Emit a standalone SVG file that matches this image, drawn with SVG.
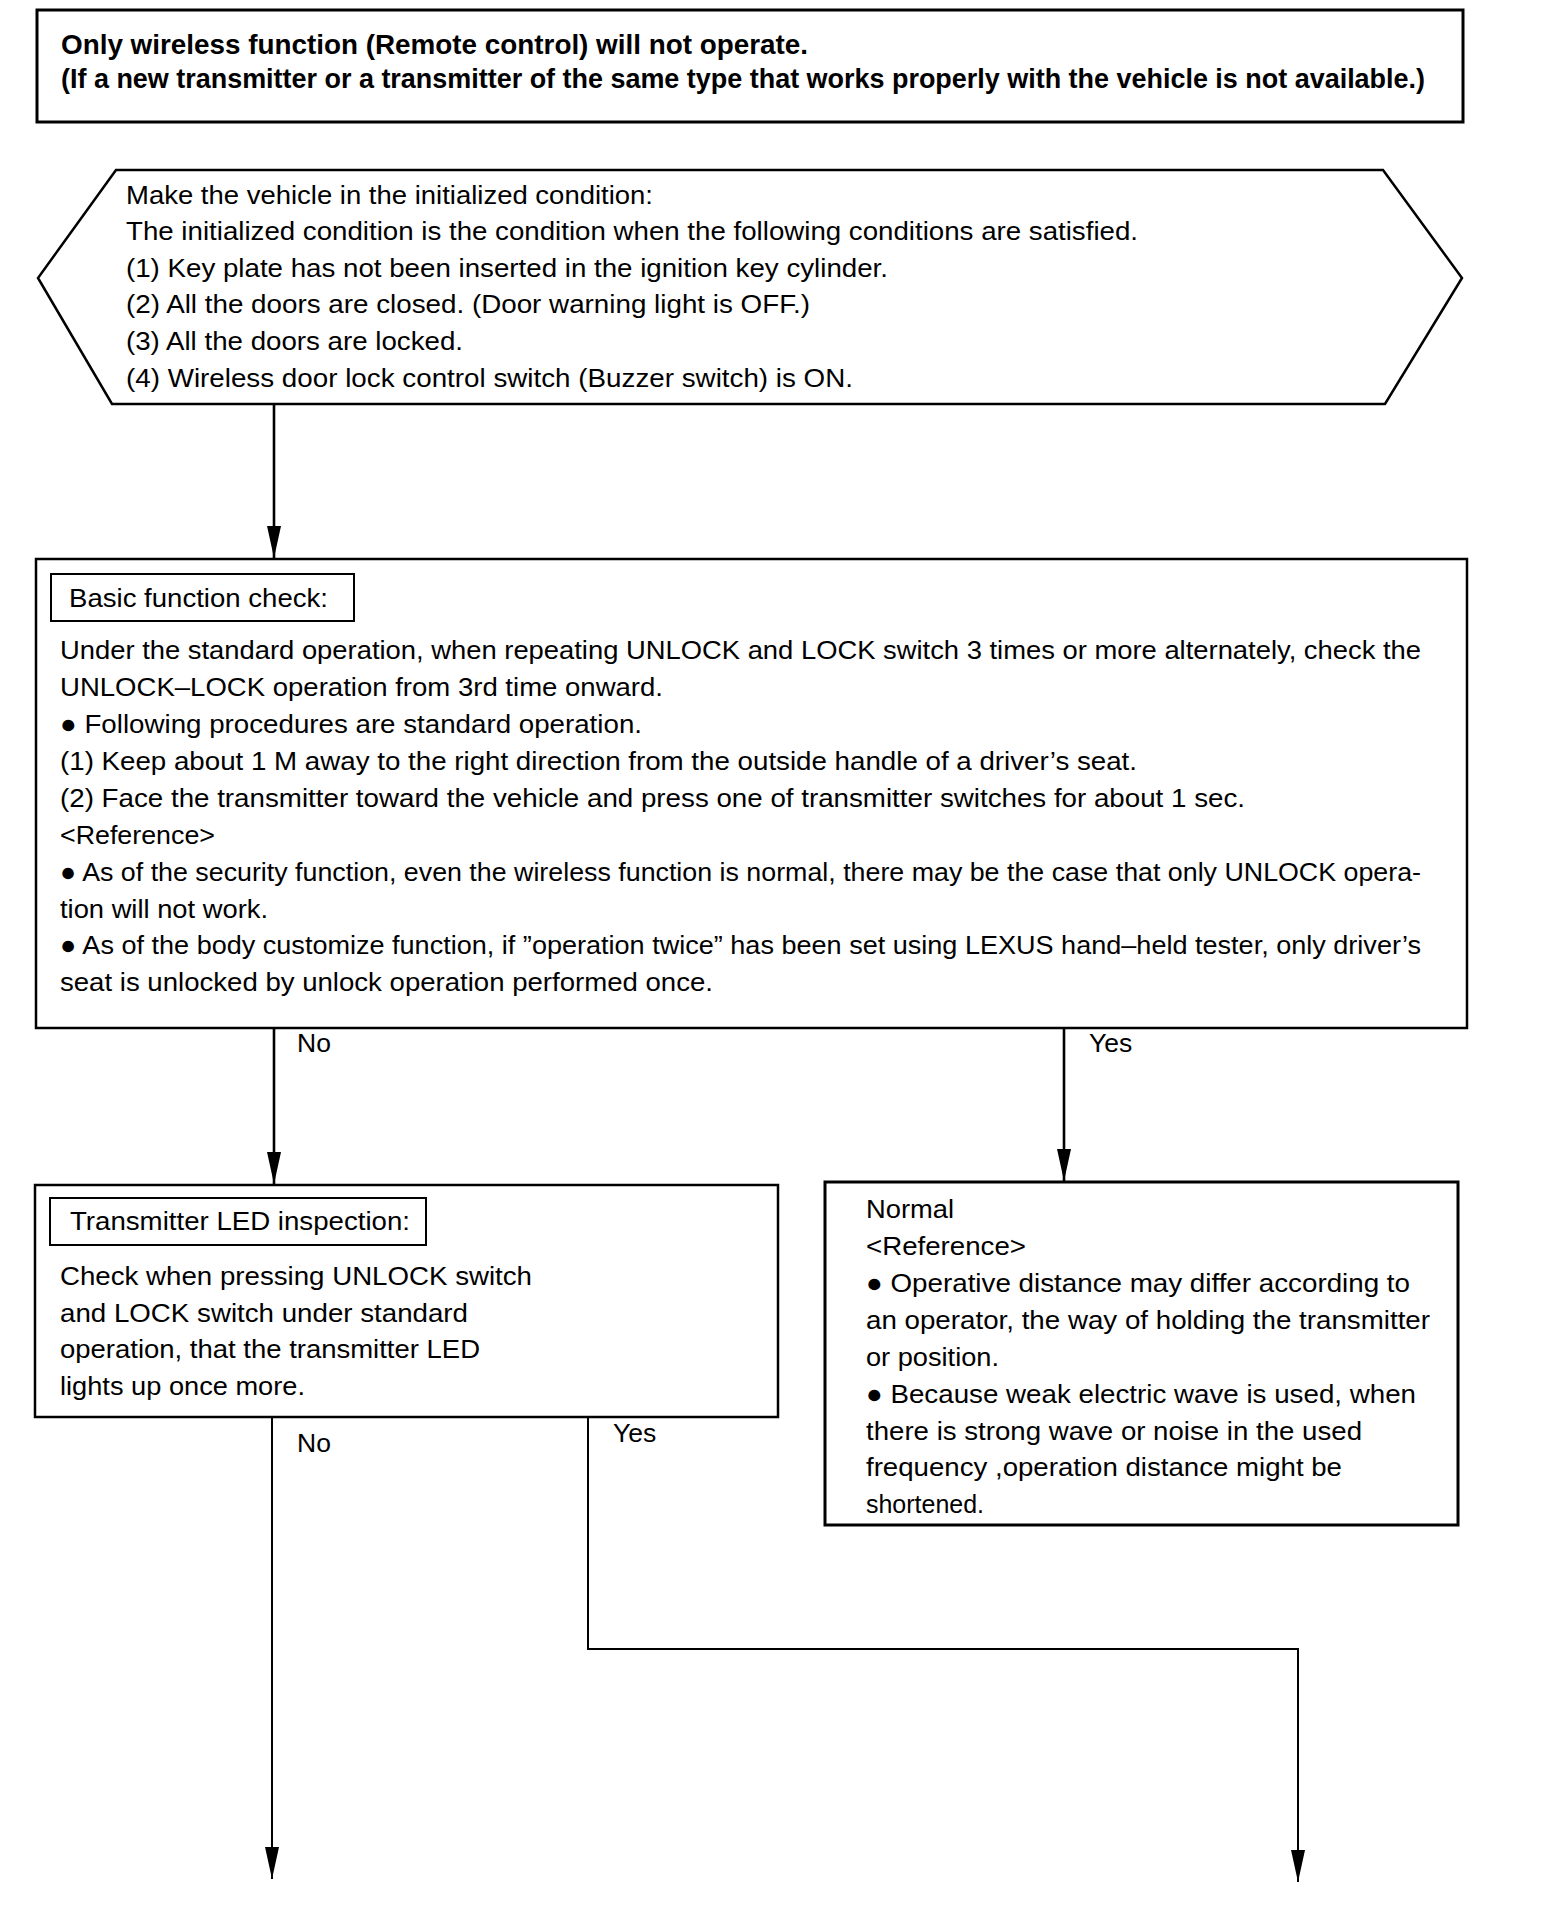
<svg xmlns="http://www.w3.org/2000/svg" width="1568" height="1918" viewBox="0 0 1568 1918">
<style>
.t{font-family:"Liberation Sans",Arial,Helvetica,sans-serif;font-size:26.5px;fill:#000}
.tb{font-family:"Liberation Sans",Arial,Helvetica,sans-serif;font-size:27px;font-weight:bold;fill:#000}
.box{fill:#fff;stroke:#000;stroke-width:2.5}
.thick{fill:#fff;stroke:#000;stroke-width:3}
.lbl{fill:none;stroke:#000;stroke-width:2}
.c{fill:none;stroke:#000;stroke-width:2.6}
.c2{fill:none;stroke:#000;stroke-width:2}
</style>
<defs>
<marker id="ah" markerUnits="userSpaceOnUse" viewBox="0 0 32 14" markerWidth="32" markerHeight="14" refX="32" refY="7" orient="auto">
<path d="M0,0 L32,7 L0,14 Z" fill="#000"/>
</marker>
</defs>
<rect width="1568" height="1918" fill="#fff"/>

<g id="title">
<rect class="thick" x="37" y="10" width="1426" height="112"/>
<text class="tb" x="61" y="54" textLength="747" lengthAdjust="spacingAndGlyphs">Only wireless function (Remote control) will not operate.</text>
<text class="tb" x="61" y="88" textLength="1364" lengthAdjust="spacingAndGlyphs">(If a new transmitter or a transmitter of the same type that works properly with the vehicle is not available.)</text>
</g>

<g id="init">
<polygon class="box" points="116,170 1383,170 1462,278 1385,404 112,404 38,278"/>
<text class="t" x="126" y="204" textLength="527" lengthAdjust="spacingAndGlyphs">Make the vehicle in the initialized condition:</text>
<text class="t" x="126" y="240" textLength="1012" lengthAdjust="spacingAndGlyphs">The initialized condition is the condition when the following conditions are satisfied.</text>
<text class="t" x="126" y="277" textLength="762" lengthAdjust="spacingAndGlyphs">(1) Key plate has not been inserted in the ignition key cylinder.</text>
<text class="t" x="126" y="313" textLength="684" lengthAdjust="spacingAndGlyphs">(2) All the doors are closed. (Door warning light is OFF.)</text>
<text class="t" x="126" y="350" textLength="337" lengthAdjust="spacingAndGlyphs">(3) All the doors are locked.</text>
<text class="t" x="126" y="387" textLength="727" lengthAdjust="spacingAndGlyphs">(4) Wireless door lock control switch (Buzzer switch) is ON.</text>
</g>

<g id="basic">
<rect class="box" x="36" y="559" width="1431" height="469"/>
<rect class="lbl" x="51" y="574" width="303" height="47"/>
<text class="t" x="69" y="607" textLength="259" lengthAdjust="spacingAndGlyphs">Basic function check:</text>
<text class="t" x="60" y="659" textLength="1361" lengthAdjust="spacingAndGlyphs">Under the standard operation, when repeating UNLOCK and LOCK switch 3 times or more alternately, check the</text>
<text class="t" x="60" y="696" textLength="603" lengthAdjust="spacingAndGlyphs">UNLOCK–LOCK operation from 3rd time onward.</text>
<text class="t" x="60" y="733" textLength="582" lengthAdjust="spacingAndGlyphs">● Following procedures are standard operation.</text>
<text class="t" x="60" y="770" textLength="1077" lengthAdjust="spacingAndGlyphs">(1) Keep about 1 M away to the right direction from the outside handle of a driver’s seat.</text>
<text class="t" x="60" y="807" textLength="1185" lengthAdjust="spacingAndGlyphs">(2) Face the transmitter toward the vehicle and press one of transmitter switches for about 1 sec.</text>
<text class="t" x="60" y="844" textLength="155" lengthAdjust="spacingAndGlyphs">&lt;Reference&gt;</text>
<text class="t" x="60" y="881" textLength="1361" lengthAdjust="spacingAndGlyphs">● As of the security function, even the wireless function is normal, there may be the case that only UNLOCK opera-</text>
<text class="t" x="60" y="918" textLength="208" lengthAdjust="spacingAndGlyphs">tion will not work.</text>
<text class="t" x="60" y="954" textLength="1361" lengthAdjust="spacingAndGlyphs">● As of the body customize function, if ”operation twice” has been set using LEXUS hand–held tester, only driver’s</text>
<text class="t" x="60" y="991" textLength="653" lengthAdjust="spacingAndGlyphs">seat is unlocked by unlock operation performed once.</text>
</g>

<g id="led">
<rect class="box" x="35" y="1185" width="743" height="232"/>
<rect class="lbl" x="50" y="1198" width="376" height="47"/>
<text class="t" x="70" y="1230" textLength="340" lengthAdjust="spacingAndGlyphs">Transmitter LED inspection:</text>
<text class="t" x="60" y="1285" textLength="472" lengthAdjust="spacingAndGlyphs">Check when pressing UNLOCK switch</text>
<text class="t" x="60" y="1322" textLength="408" lengthAdjust="spacingAndGlyphs">and LOCK switch under standard</text>
<text class="t" x="60" y="1358" textLength="420" lengthAdjust="spacingAndGlyphs">operation, that the transmitter LED</text>
<text class="t" x="60" y="1395" textLength="245" lengthAdjust="spacingAndGlyphs">lights up once more.</text>
</g>

<g id="normal">
<rect class="thick" x="825" y="1182" width="633" height="343"/>
<text class="t" x="866" y="1218" textLength="88" lengthAdjust="spacingAndGlyphs">Normal</text>
<text class="t" x="866" y="1255" textLength="160" lengthAdjust="spacingAndGlyphs">&lt;Reference&gt;</text>
<text class="t" x="866" y="1292" textLength="544" lengthAdjust="spacingAndGlyphs">● Operative distance may differ according to</text>
<text class="t" x="866" y="1329" textLength="564" lengthAdjust="spacingAndGlyphs">an operator, the way of holding the transmitter</text>
<text class="t" x="866" y="1366" textLength="133" lengthAdjust="spacingAndGlyphs">or position.</text>
<text class="t" x="866" y="1403" textLength="550" lengthAdjust="spacingAndGlyphs">● Because weak electric wave is used, when</text>
<text class="t" x="866" y="1440" textLength="496" lengthAdjust="spacingAndGlyphs">there is strong wave or noise in the used</text>
<text class="t" x="866" y="1476" textLength="476" lengthAdjust="spacingAndGlyphs">frequency ,operation distance might be</text>
<text class="t" x="866" y="1513" textLength="118" lengthAdjust="spacingAndGlyphs">shortened.</text>
</g>

<g id="connectors">
<path class="c" d="M274,404 V558" marker-end="url(#ah)"/>
<path class="c" d="M274,1028 V1184" marker-end="url(#ah)"/>
<path class="c" d="M1064,1028 V1181" marker-end="url(#ah)"/>
<path class="c2" d="M272,1417 V1879" marker-end="url(#ah)"/>
<path class="c2" d="M588,1417 V1649 H1298 V1882" marker-end="url(#ah)"/>
<text class="t" x="297" y="1052">No</text>
<text class="t" x="1089" y="1052">Yes</text>
<text class="t" x="297" y="1452">No</text>
<text class="t" x="613" y="1442">Yes</text>
</g>
</svg>
